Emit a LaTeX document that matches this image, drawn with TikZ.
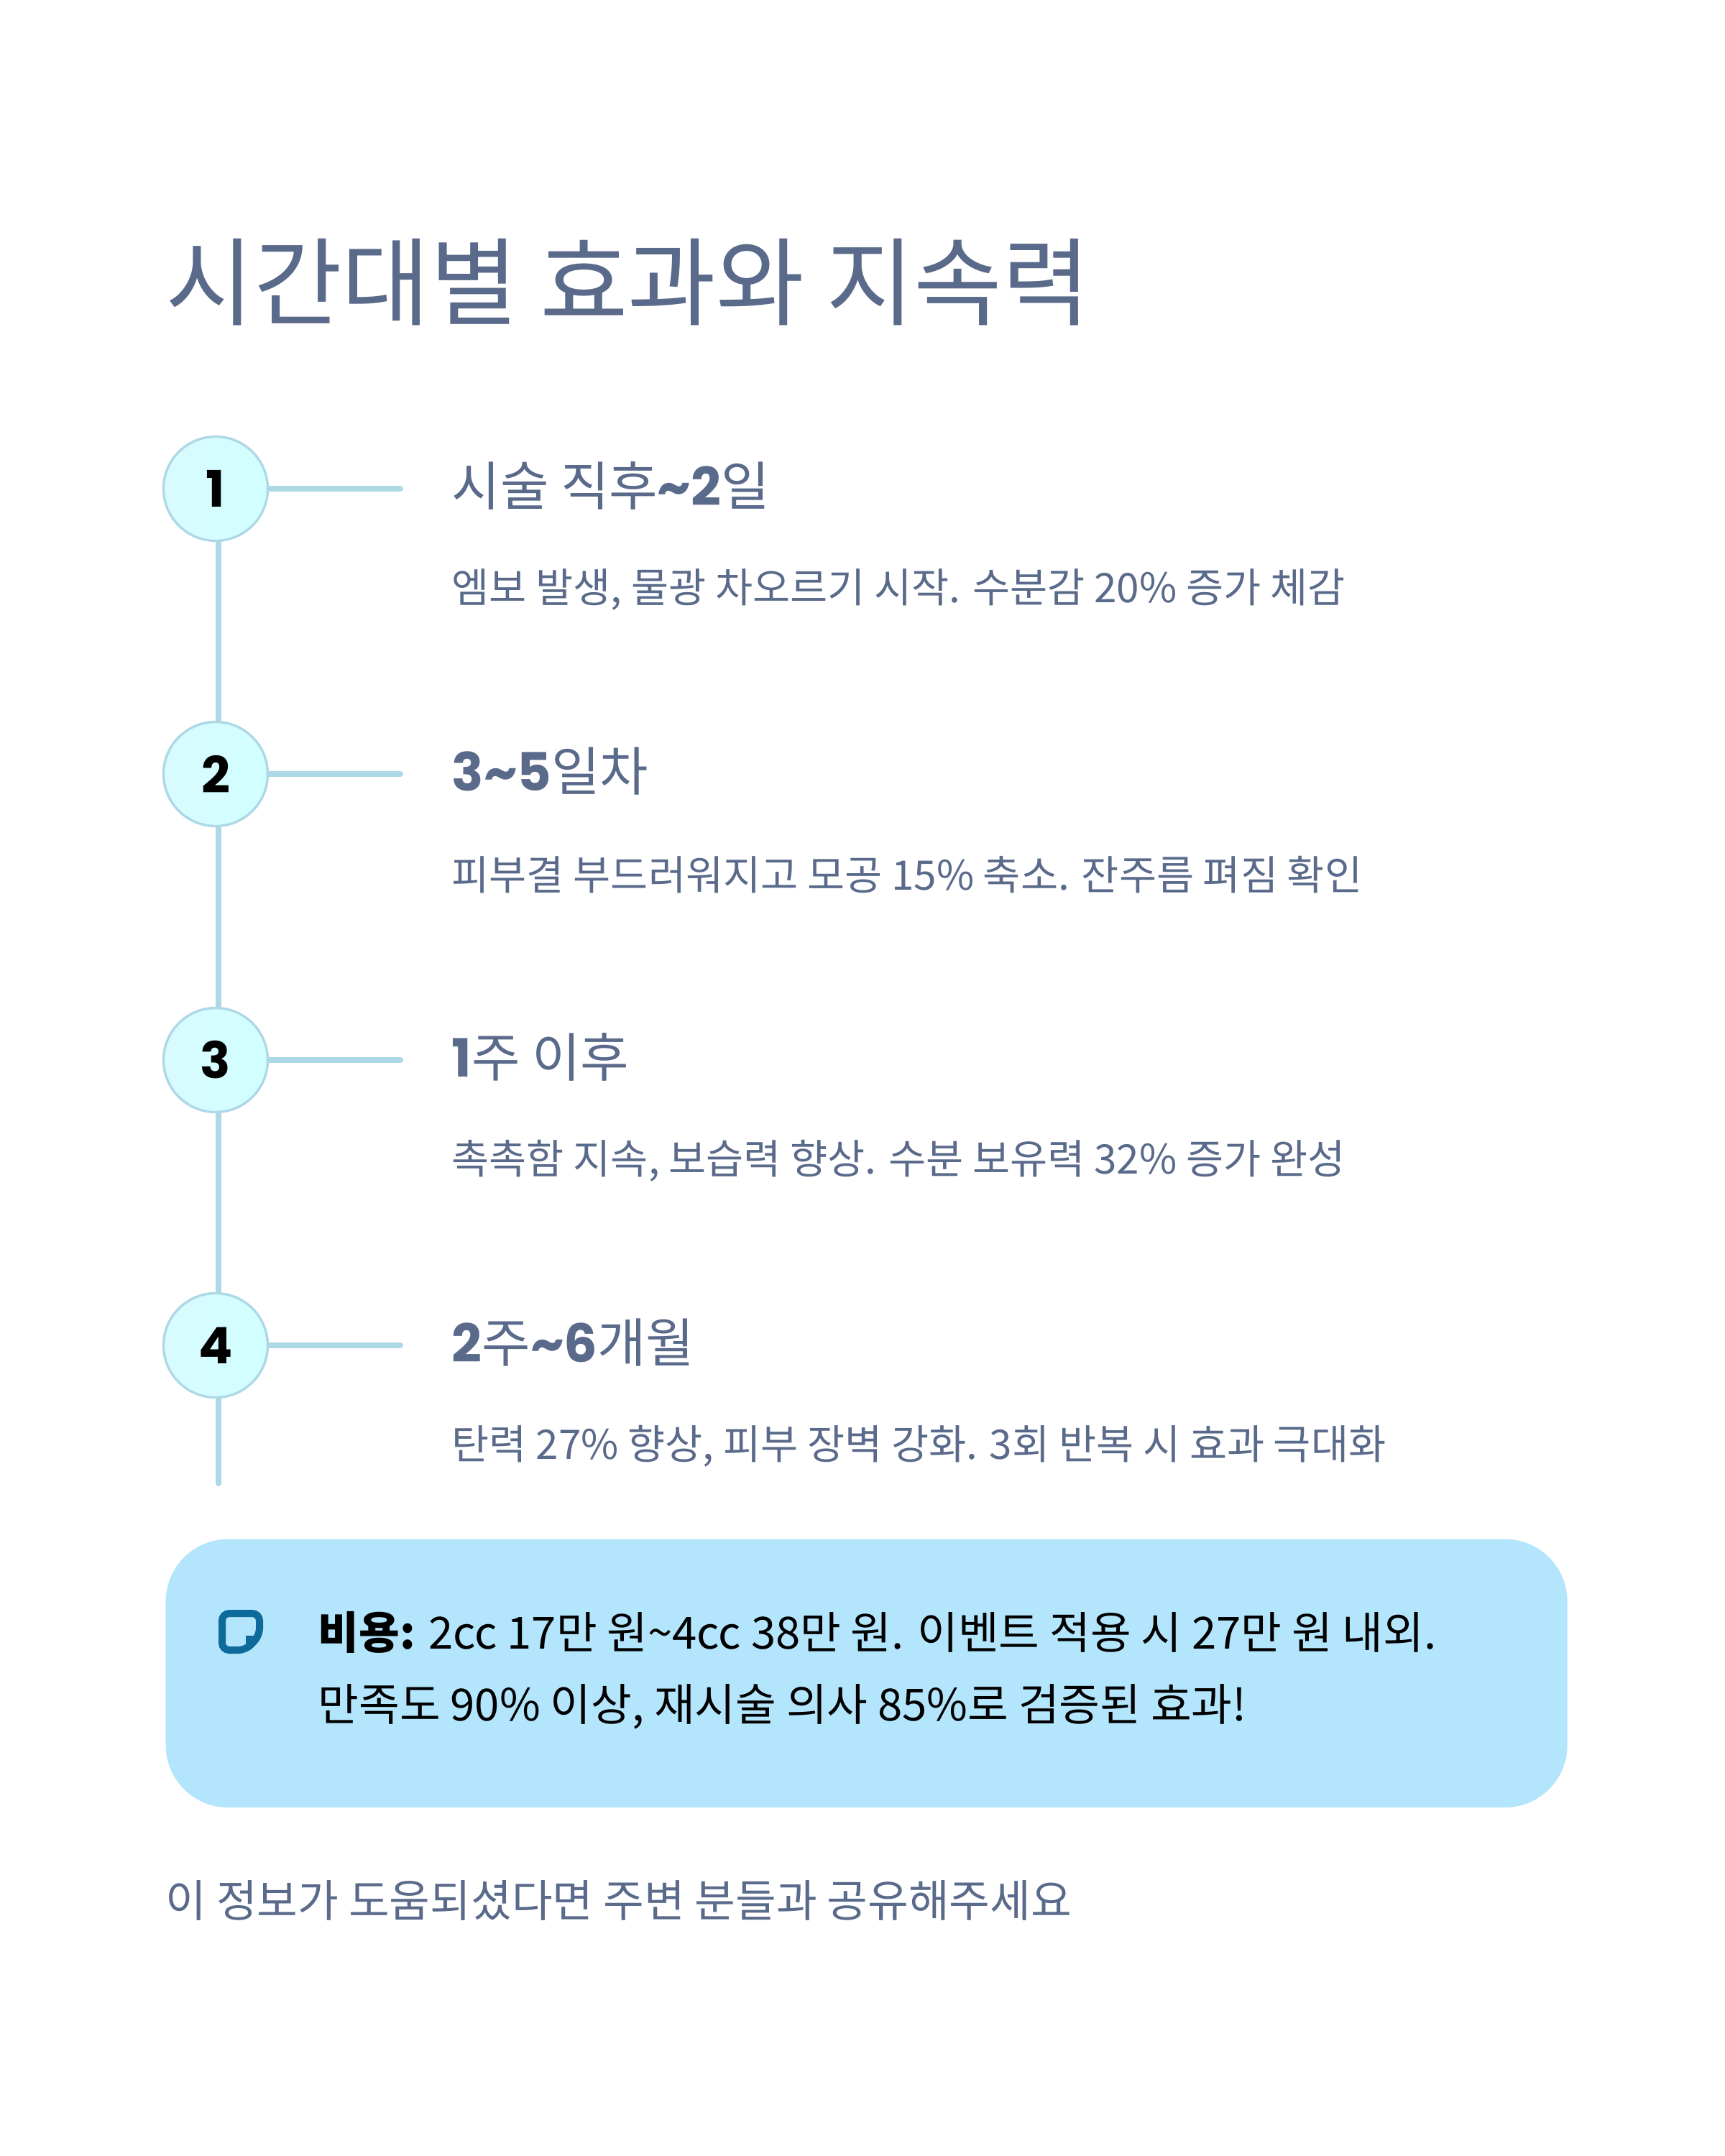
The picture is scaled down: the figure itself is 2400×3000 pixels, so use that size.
\documentclass[tikz,border=0pt]{standalone}
\usepackage{fontspec}
\setmainfont{Noto Sans CJK KR}
\newfontfamily\pop{Poppins}
\usetikzlibrary{shapes.geometric}
\definecolor{slate}{HTML}{5A6A8A}
\definecolor{lineb}{HTML}{ADD8E6}
\definecolor{boxb}{HTML}{B3E5FC}
\definecolor{icon}{HTML}{0D6A9A}
\begin{document}
\begin{tikzpicture}[x=0.3pt,y=-0.3pt,
  num/.style={circle,minimum size=43.5pt,inner sep=0pt,draw=lineb,line width=1pt,left color=blue!12!cyan!15,right color=cyan!18,font=\pop\bfseries\fontsize{21}{21}\selectfont,text=black},
  head/.style={anchor=west,inner sep=0pt,text=slate,font=\fontsize{22}{26}\selectfont},
  desc/.style={anchor=west,inner sep=0pt,text=slate,font=\fontsize{17}{20}\selectfont},
  conn/.style={draw=lineb,line width=2.4pt,line cap=round}]
\useasboundingbox (0,0) rectangle (2400,3000);
\fill[white] (0,0) rectangle (2400,3000);
\node[anchor=base west,inner sep=0pt,text=slate,font=\fontsize{40}{44}\selectfont] (title) at (230,442) {시간대별 효과와 지속력};
\coordinate (vend) at (304,2064);
\foreach \i/\y in {1/680,2/1077,3/1475,4/1872}{
  \coordinate (h\i) at (557,\y);
}
\draw[conn] (304,680) -- (vend);
\foreach \i/\y in {1/680,2/1077,3/1475,4/1872}{
  \node[num] (c\i) at (300,\y) {\i};
  \draw[conn] (c\i.east) -- (h\i);
}
\node[head] (t1) at (628,676) {시술 직후{\pop\bfseries\textasciitilde2}일};
\node[desc] (d1) at (628,820) {엠보 발생, 물광 차오르기 시작. 수분감 20\% 증가 체감};
\node[head] (t2) at (628,1073) {{\pop\bfseries 3\textasciitilde5}일차};
\node[desc] (d2) at (628,1217) {피부결 부드러워지고 모공 15\% 축소. 잔주름 펴짐 확인};
\node[head] (t3) at (628,1471) {{\pop\bfseries 1}주 이후};
\node[desc] (d3) at (628,1615) {촉촉함 지속, 보습력 향상. 수분 보유력 32\% 증가 완성};
\node[head] (t4) at (628,1868) {{\pop\bfseries 2}주{\pop\bfseries\textasciitilde6}개월};
\node[desc] (d4) at (628,2012) {탄력 27\% 향상, 피부 장벽 강화. 3회 반복 시 효과 극대화};
\node[draw=none,fill=boxb,rounded corners=26pt,minimum width=585pt,minimum height=112pt,anchor=north west,inner sep=0pt] (box) at (230,2141) {};
\node[anchor=west,inner sep=0pt,font=\fontsize{18.5}{22}\selectfont,text=black] (b1) at (442,2271) {\textbf{비용:} 2cc 17만 원\textasciitilde4cc 38만 원. 이벤트 적용 시 27만 원 내외.};
\node[anchor=west,inner sep=0pt,font=\fontsize{18.5}{22}\selectfont,text=black] (b2) at (442,2375) {만족도 90\% 이상, 재시술 의사 85\%로 검증된 효과!};
\draw[icon,line width=3pt,rounded corners=3pt] (309,2245) -- (361,2245) -- (361,2276) -- (342,2296) -- (309,2296) -- cycle;
\fill[icon] (361,2276) -- (342,2276) -- (342,2296) -- cycle;
\node[anchor=west,inner sep=0pt,text=slate,font=\fontsize{18.5}{22}\selectfont] (foot) at (230,2644) {이 정보가 도움되셨다면 주변 분들과 공유해주세요};
\end{tikzpicture}
\end{document}
